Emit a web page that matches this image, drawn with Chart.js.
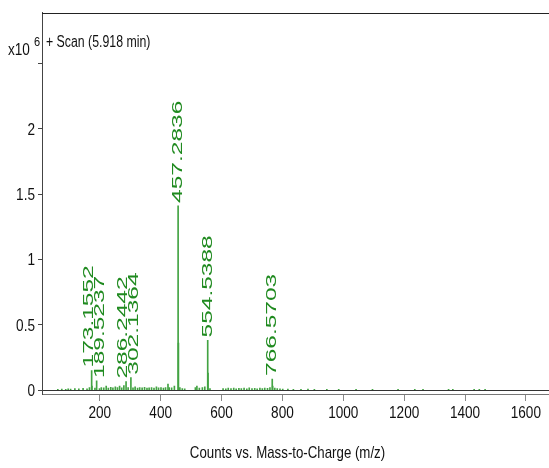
<!DOCTYPE html>
<html><head><meta charset="utf-8">
<script src="https://cdn.jsdelivr.net/npm/chart.js@4.4.1/dist/chart.umd.min.js"></script>
<style>html,body{margin:0;padding:0;background:#fff}#wrap{width:549px;height:468px;position:relative}</style>
</head><body><div id="wrap"><canvas id="c" width="549" height="468"></canvas></div>
<script>
// Labelled peaks (m/z, counts x10^6)
const peakMz = [173.1552, 189.5237, 286.2442, 302.1364, 457.2836, 554.5388, 766.5703];
const peakCounts = [0.15, 0.07, 0.065, 0.095, 1.41, 0.38, 0.085];
const peakLabels = ["173.1552", "189.5237", "286.2442", "302.1364", "457.2836", "554.5388", "766.5703"];
// Minor (unlabelled) peaks read from the baseline
const minorMz = [62, 75, 88, 96, 104, 118, 131, 145, 158, 166, 174.16, 184, 199, 205, 213, 221, 228, 236, 243, 251, 258, 265, 272, 279, 293, 309, 316, 324, 331, 339, 347, 355, 362, 370, 378, 386, 393, 401, 409, 416, 424, 428, 436, 445, 458.29, 463, 471, 479, 514, 519, 527, 537, 545, 555.54, 562, 605, 614, 622, 631, 640, 648, 657, 665, 674, 683, 691, 700, 709, 717, 726, 734, 742, 751, 759, 768, 775, 783, 792, 801, 818, 836, 861, 884, 905, 946, 985, 1042, 1096, 1180, 1235, 1262, 1346, 1360, 1430, 1447, 1466];
const minorCounts = [0.006, 0.008, 0.006, 0.01, 0.008, 0.012, 0.009, 0.014, 0.01, 0.02, 0.03, 0.015, 0.012, 0.02, 0.018, 0.03, 0.016, 0.022, 0.018, 0.025, 0.02, 0.03, 0.018, 0.035, 0.02, 0.018, 0.025, 0.016, 0.02, 0.018, 0.022, 0.015, 0.018, 0.02, 0.016, 0.025, 0.018, 0.02, 0.015, 0.02, 0.045, 0.02, 0.018, 0.03, 0.36, 0.02, 0.012, 0.01, 0.02, 0.03, 0.015, 0.02, 0.025, 0.13, 0.012, 0.012, 0.01, 0.015, 0.012, 0.016, 0.01, 0.014, 0.012, 0.015, 0.01, 0.018, 0.012, 0.014, 0.01, 0.015, 0.012, 0.016, 0.014, 0.02, 0.03, 0.015, 0.012, 0.01, 0.008, 0.008, 0.006, 0.006, 0.008, 0.005, 0.006, 0.005, 0.006, 0.005, 0.006, 0.005, 0.006, 0.006, 0.005, 0.006, 0.005, 0.005];
const yTickValues = [0, 0.5, 1, 1.5, 2, 2.5];
const yTickLabels = ["0", "0.5", "1", "1.5", "2", ""];
const xTickValues = [200, 400, 600, 800, 1000, 1200, 1400, 1600];
const xTickLabels = ["200", "400", "600", "800", "1000", "1200", "1400", "1600"];
const xTitle = "Counts vs. Mass-to-Charge (m/z)";
const scanLabel = "+ Scan (5.918 min)";
const yUnit = "x10";
const yExp = "6";

const FONT = '"Liberation Sans", Arial, sans-serif';
const GREEN_BAR = '#43a343';
const GREEN_TXT = '#1f8a1f';
const INK = '#111';

const toPts = (xs, ys) => xs.map((x, i) => ({x: x, y: ys[i]}));

// draw horizontally condensed text (the source uses a narrow face)
function narrowText(ctx, text, x, y, size, squeeze, align) {
  ctx.save();
  ctx.font = size + 'px ' + FONT;
  const w = ctx.measureText(text).width * squeeze;
  let x0 = x;
  if (align === 'right') x0 = x - w;
  else if (align === 'center') x0 = x - w / 2;
  ctx.translate(x0, y);
  ctx.scale(squeeze, 1);
  ctx.textAlign = 'left';
  ctx.fillText(text, 0, 0);
  ctx.restore();
}

const decor = {
  id: 'decor',
  afterDraw(chart) {
    const {ctx, chartArea: a, scales: {x, y}} = chart;
    ctx.save();
    // top frame line
    ctx.strokeStyle = '#222';
    ctx.lineWidth = 1;
    ctx.beginPath();
    ctx.moveTo(a.left, Math.round(a.top) + 0.5);
    ctx.lineTo(a.right, Math.round(a.top) + 0.5);
    ctx.stroke();

    // peak labels, spread apart where they would collide
    const pos = peakMz.map(m => x.getPixelForValue(m));
    const minGap = 11;
    for (let it = 0; it < 20; it++) {
      for (let i = 1; i < pos.length; i++) {
        const d = pos[i] - pos[i - 1];
        if (d < minGap) { const s = (minGap - d) / 2; pos[i - 1] -= s; pos[i] += s; }
      }
    }
    ctx.fillStyle = GREEN_TXT;
    ctx.font = '14px ' + FONT;
    ctx.textAlign = 'left';
    ctx.textBaseline = 'middle';
    peakMz.forEach((m, i) => {
      const py = y.getPixelForValue(peakCounts[i]);
      ctx.save();
      ctx.translate(pos[i], py - 3);
      ctx.rotate(-Math.PI / 2);
      ctx.scale(1.75, 1);
      ctx.fillText(peakLabels[i], 0, 0);
      ctx.restore();
    });

    // tick labels
    ctx.fillStyle = INK;
    ctx.textBaseline = 'alphabetic';
    xTickValues.forEach((v, i) => {
      narrowText(ctx, xTickLabels[i], x.getPixelForValue(v), 418, 17, 0.8, 'center');
    });
    yTickValues.forEach((v, i) => {
      if (yTickLabels[i]) narrowText(ctx, yTickLabels[i], 35, y.getPixelForValue(v) + 6, 17, 0.8, 'right');
    });
    // axis title
    narrowText(ctx, xTitle, (a.left + a.right) / 2 - 8, 458, 17, 0.78, 'center');
    // header texts
    narrowText(ctx, yUnit, 8, 55, 17, 0.8, 'left');
    narrowText(ctx, yExp, 34, 46, 13, 0.85, 'left');
    narrowText(ctx, scanLabel, 46, 47, 16, 0.77, 'left');
    ctx.restore();
  }
};

new Chart(document.getElementById('c'), {
  type: 'bar',
  data: {
    datasets: [
      {data: toPts(minorMz, minorCounts), backgroundColor: GREEN_BAR, barThickness: 1, grouped: false},
      {data: toPts(peakMz, peakCounts), backgroundColor: GREEN_BAR, barThickness: 1, grouped: false}
    ]
  },
  options: {
    responsive: false,
    animation: false,
    layout: {padding: {top: 12, left: 0, right: 0, bottom: 0}},
    plugins: {legend: {display: false}, tooltip: {enabled: false}},
    scales: {
      x: {
        type: 'linear', min: 10, max: 1676, offset: false,
        afterBuildTicks: s => { s.ticks = xTickValues.map(v => ({value: v})); },
        ticks: {color: 'rgba(0,0,0,0)', maxRotation: 0, padding: 3, font: {family: FONT, size: 16}},
        grid: {drawOnChartArea: false, tickLength: 7, tickColor: '#888', offset: false},
        border: {color: '#777'},
        afterFit: s => { s.height = 74; }
      },
      y: {
        min: -0.03, max: 2.89,
        afterBuildTicks: s => { s.ticks = yTickValues.map(v => ({value: v})); },
        ticks: {color: 'rgba(0,0,0,0)', padding: 3, font: {family: FONT, size: 16}},
        grid: {color: c => (c.tick && c.tick.value === 0) ? '#333' : 'rgba(0,0,0,0)', tickColor: '#444', tickLength: 4},
        border: {color: '#444'},
        afterFit: s => { s.width = 42; }
      }
    }
  },
  plugins: [decor]
});
</script></body></html>
